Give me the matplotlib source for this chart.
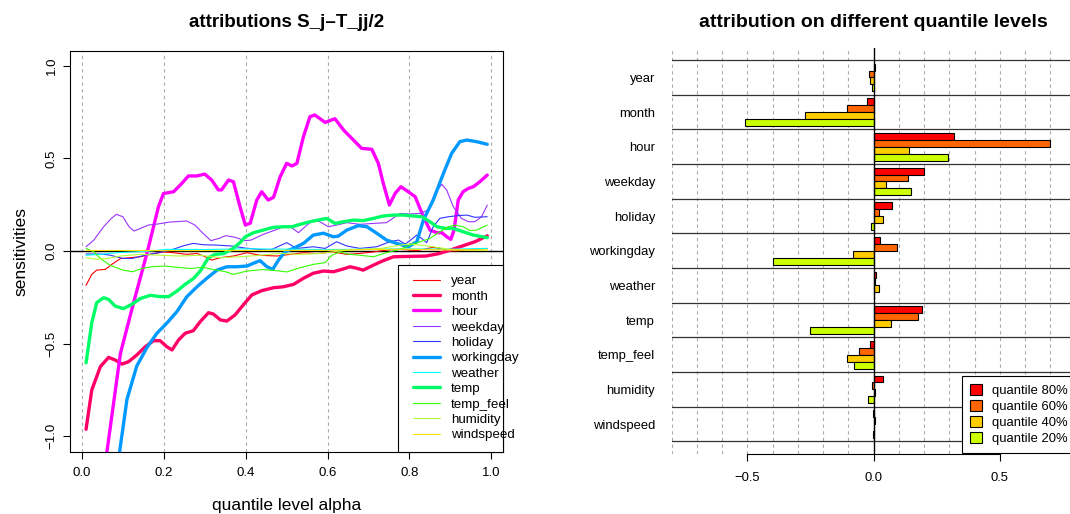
import matplotlib
matplotlib.use('Agg')
import matplotlib.pyplot as plt
from matplotlib.patches import Patch, Rectangle
import numpy as np

plt.rcParams['font.family'] = ['Liberation Sans', 'DejaVu Sans']

# left panel: sensitivities over quantile level alpha
year_a = [0.01, 0.024, 0.036, 0.057, 0.073, 0.094, 0.118, 0.142, 0.167, 0.199, 0.224, 0.256, 0.281, 0.297, 0.317,
          0.338, 0.37, 0.403, 0.435, 0.476, 0.509, 0.541, 0.573, 0.614, 0.647, 0.679, 0.712, 0.744, 0.777, 0.818,
          0.858, 0.883, 0.907, 0.94, 0.99]
year = [-0.185, -0.126, -0.103, -0.099, -0.072, -0.041, -0.036, -0.031, -0.018, -0.005, -0.009, -0.018, -0.013,
        -0.027, -0.049, -0.036, -0.027, -0.009, -0.023, -0.027, -0.018, -0.009, -0.014, -0.005, -0.018, -0.013,
        -0.005, 0.005, 0.009, 0.002, 0.02, 0.009, 0.0, 0.005, 0.014]

month_a = [0.01, 0.024, 0.045, 0.065, 0.081, 0.098, 0.114, 0.134, 0.155, 0.175, 0.191, 0.207, 0.22, 0.236, 0.252,
           0.272, 0.289, 0.309, 0.321, 0.338, 0.354, 0.374, 0.394, 0.415, 0.439, 0.468, 0.492, 0.517, 0.541, 0.565,
           0.59, 0.614, 0.635, 0.655, 0.671, 0.687, 0.712, 0.736, 0.761, 0.80, 0.84, 0.87, 0.90, 0.933, 0.96, 0.99]
month = [-0.962, -0.75, -0.624, -0.574, -0.588, -0.61, -0.597, -0.561, -0.516, -0.484, -0.484, -0.516, -0.534,
         -0.48, -0.444, -0.43, -0.381, -0.333, -0.34, -0.372, -0.378, -0.345, -0.291, -0.237, -0.214, -0.198,
         -0.193, -0.18, -0.147, -0.12, -0.108, -0.112, -0.099, -0.085, -0.093, -0.103, -0.076, -0.052, -0.031,
         -0.029, -0.027, -0.015, 0.005, 0.03, 0.05, 0.082]

hour_a = [0.01, 0.061, 0.094, 0.126, 0.159, 0.187, 0.199, 0.224, 0.244, 0.26, 0.28, 0.30, 0.317, 0.333, 0.341,
          0.358, 0.37, 0.386, 0.399, 0.411, 0.427, 0.439, 0.455, 0.468, 0.484, 0.50, 0.513, 0.525, 0.541, 0.557,
          0.569, 0.594, 0.618, 0.639, 0.655, 0.683, 0.708, 0.724, 0.736, 0.751, 0.765, 0.779, 0.797, 0.814, 0.834,
          0.85, 0.867, 0.879, 0.891, 0.901, 0.909, 0.919, 0.931, 0.944, 0.956, 0.972, 0.99]
hour = [-1.9, -1.083, -0.552, -0.28, -0.01, 0.24, 0.31, 0.32, 0.365, 0.405, 0.405, 0.415, 0.383, 0.33, 0.33,
        0.383, 0.374, 0.24, 0.14, 0.15, 0.275, 0.32, 0.275, 0.29, 0.40, 0.473, 0.459, 0.473, 0.617, 0.725,
        0.734, 0.694, 0.714, 0.653, 0.617, 0.554, 0.549, 0.473, 0.365, 0.248, 0.311, 0.347, 0.32, 0.293, 0.185,
        0.113, 0.099, 0.099, 0.077, 0.063, 0.113, 0.275, 0.32, 0.338, 0.347, 0.374, 0.41]

weekday_a = [0.01, 0.029, 0.053, 0.072, 0.084, 0.1, 0.115, 0.127, 0.143, 0.162, 0.186, 0.213, 0.256, 0.276, 0.296,
             0.315, 0.335, 0.351, 0.374, 0.398, 0.413, 0.443, 0.468, 0.493, 0.509, 0.529, 0.545, 0.565, 0.581,
             0.602, 0.622, 0.647, 0.679, 0.712, 0.744, 0.765, 0.777, 0.801, 0.826, 0.846, 0.862, 0.879, 0.891,
             0.907, 0.927, 0.944, 0.96, 0.976, 0.99]
weekday = [0.023, 0.059, 0.131, 0.176, 0.198, 0.185, 0.131, 0.108, 0.122, 0.14, 0.146, 0.156, 0.162, 0.14, 0.095,
           0.056, 0.068, 0.083, 0.074, 0.056, 0.059, 0.09, 0.11, 0.131, 0.131, 0.099, 0.131, 0.167, 0.158, 0.131,
           0.14, 0.153, 0.144, 0.149, 0.153, 0.185, 0.203, 0.2, 0.203, 0.221, 0.311, 0.36, 0.329, 0.239, 0.176,
           0.158, 0.158, 0.185, 0.248]

holiday_a = [0.01, 0.045, 0.068, 0.1, 0.123, 0.155, 0.186, 0.217, 0.249, 0.272, 0.296, 0.327, 0.366, 0.398, 0.429,
             0.46, 0.5, 0.525, 0.565, 0.594, 0.622, 0.647, 0.679, 0.72, 0.752, 0.773, 0.79, 0.805, 0.818, 0.83,
             0.842, 0.858, 0.874, 0.895, 0.919, 0.94, 0.96, 0.99]
holiday = [-0.016, -0.016, -0.022, -0.04, -0.04, -0.022, -0.009, 0.005, 0.029, 0.041, 0.034, 0.032, 0.027, 0.016,
           0.009, 0.005, 0.045, 0.014, 0.023, 0.014, 0.05, 0.027, 0.014, 0.023, 0.05, 0.059, 0.038, 0.063, 0.086,
           0.068, 0.045, 0.131, 0.176, 0.185, 0.191, 0.194, 0.182, 0.185]

workingday_a = [0.01, 0.092, 0.11, 0.134, 0.159, 0.183, 0.207, 0.232, 0.256, 0.281, 0.305, 0.33, 0.354, 0.378,
                0.403, 0.419, 0.435, 0.452, 0.466, 0.48, 0.496, 0.517, 0.541, 0.565, 0.59, 0.614, 0.626, 0.647,
                0.675, 0.696, 0.72, 0.744, 0.769, 0.797, 0.818, 0.834, 0.858, 0.883, 0.903, 0.923, 0.94, 0.964, 0.99]
workingday = [-2.3, -1.083, -0.80, -0.62, -0.52, -0.444, -0.39, -0.327, -0.247, -0.193, -0.147, -0.103, -0.085,
              -0.085, -0.081, -0.066, -0.052, -0.085, -0.099, -0.049, -0.004, 0.015, 0.041, 0.086, 0.096, 0.077,
              0.08, 0.113, 0.137, 0.131, 0.096, 0.059, 0.041, 0.023, 0.05, 0.167, 0.275, 0.419, 0.527, 0.59,
              0.599, 0.59, 0.576]

weather_a = [0.01, 0.045, 0.085, 0.126, 0.167, 0.207, 0.3, 0.4, 0.5, 0.6, 0.7, 0.8, 0.9, 0.99]
weather = [-0.023, -0.018, -0.009, -0.005, 0.0, 0.009, 0.008, 0.012, 0.01, 0.008, 0.01, 0.012, 0.01, 0.014]

temp_a = [0.01, 0.024, 0.036, 0.053, 0.065, 0.081, 0.101, 0.122, 0.142, 0.167, 0.191, 0.212, 0.232, 0.252, 0.272,
          0.289, 0.309, 0.325, 0.346, 0.366, 0.386, 0.399, 0.419, 0.443, 0.468, 0.492, 0.513, 0.533, 0.557, 0.577,
          0.598, 0.618, 0.639, 0.663, 0.687, 0.712, 0.736, 0.761, 0.785, 0.809, 0.83, 0.85, 0.867, 0.887, 0.907,
          0.931, 0.956, 0.99]
temp = [-0.603, -0.387, -0.279, -0.252, -0.261, -0.297, -0.311, -0.288, -0.257, -0.239, -0.246, -0.246, -0.216,
        -0.18, -0.149, -0.108, -0.036, -0.018, -0.014, 0.009, 0.045, 0.077, 0.099, 0.113, 0.128, 0.131, 0.131,
        0.144, 0.158, 0.167, 0.176, 0.149, 0.158, 0.167, 0.164, 0.176, 0.189, 0.194, 0.194, 0.189, 0.185, 0.158,
        0.131, 0.122, 0.122, 0.104, 0.086, 0.072]

temp_feel_a = [0.01, 0.029, 0.045, 0.068, 0.1, 0.123, 0.147, 0.17, 0.202, 0.233, 0.264, 0.296, 0.321, 0.351, 0.37,
               0.403, 0.443, 0.484, 0.5, 0.533, 0.565, 0.594, 0.61, 0.63, 0.655, 0.679, 0.712, 0.744, 0.777, 0.801,
               0.826, 0.85, 0.874, 0.895, 0.911, 0.931, 0.948, 0.964, 0.99]
temp_feel = [0.014, -0.004, -0.04, -0.076, -0.103, -0.112, -0.094, -0.085, -0.081, -0.088, -0.094, -0.088, -0.1,
             -0.112, -0.126, -0.108, -0.1, -0.108, -0.113, -0.09, -0.072, -0.063, -0.023, -0.005, -0.018, -0.023,
             -0.031, -0.009, 0.009, 0.032, 0.05, 0.068, 0.104, 0.131, 0.14, 0.131, 0.11, 0.113, 0.14]

humidity_a = [0.01, 0.036, 0.06, 0.094, 0.142, 0.191, 0.24, 0.289, 0.338, 0.386, 0.435, 0.484, 0.533, 0.581, 0.63,
              0.679, 0.728, 0.777, 0.801, 0.826, 0.858, 0.899, 0.94, 0.99]
humidity = [-0.036, -0.045, -0.041, -0.027, -0.018, -0.023, -0.027, -0.023, -0.036, -0.031, -0.023, -0.013,
            -0.018, -0.013, 0.0, 0.009, 0.013, 0.032, 0.038, 0.032, 0.023, 0.009, 0.005, 0.005]

windspeed_a = [0.01, 0.2, 0.4, 0.6, 0.7, 0.8, 0.9, 0.99]
windspeed = [0.003, 0.002, 0.003, 0.004, 0.008, 0.01, 0.005, 0.006]

# right panel: attribution per variable at four quantile levels
variables = ['year', 'month', 'hour', 'weekday', 'holiday', 'workingday', 'weather', 'temp', 'temp_feel',
             'humidity', 'windspeed']
q80 = [0.004, -0.026, 0.317, 0.198, 0.071, 0.025, 0.009, 0.19, -0.016, 0.036, -0.003]
q60 = [-0.02, -0.106, 0.699, 0.135, 0.021, 0.091, 0.007, 0.174, -0.057, -0.008, 0.007]
q40 = [-0.013, -0.27, 0.142, 0.051, 0.038, -0.08, 0.02, 0.07, -0.106, 0.004, 0.001]
q20 = [-0.007, -0.51, 0.296, 0.149, -0.011, -0.398, 0.003, -0.254, -0.078, -0.024, -0.003]
quant_labels = ['quantile 80%', 'quantile 60%', 'quantile 40%', 'quantile 20%']

series = [(year_a, year), (month_a, month), (hour_a, hour), (weekday_a, weekday), (holiday_a, holiday),
          (workingday_a, workingday), (weather_a, weather), (temp_a, temp), (temp_feel_a, temp_feel),
          (humidity_a, humidity), (windspeed_a, windspeed)]
line_cols = ['#FF0000', '#FF0066', '#FF00FF', '#9933FF', '#3333FF', '#0099FF', '#00FFFF', '#00FF66',
             '#33FF00', '#B3FF33', '#FFDD00']
thick = [False, True, True, False, False, True, False, True, False, False, False]
bar_cols = ['#FF0000', '#FF6600', '#FFCC00', '#CCFF00']

W, H = 1070, 514
fig = plt.figure(figsize=(W / 100, H / 100), dpi=100)

# ---- left panel
ax = fig.add_axes([70 / W, (H - 451.7) / H, (503.3 - 70) / W, (451.7 - 50.7) / H])
for g in np.arange(0, 1.01, 0.2):
    ax.axvline(g, color='#aaaaaa', lw=0.8, ls=(0, (3, 3)), zorder=1)
ax.axhline(0, color='black', lw=1, zorder=2)
for (xa, ya), c, tk, name in zip(series, line_cols, thick, variables):
    ax.plot(xa, ya, color=c, lw=2.4 if tk else 0.8, label=name, zorder=3,
            solid_joinstyle='round', solid_capstyle='round')
ax.set_xlim(-0.0292, 1.0292)
ax.set_ylim(-1.083, 1.081)
ax.set_xticks(np.arange(0, 1.01, 0.2))
ax.set_yticks([-1, -0.5, 0, 0.5, 1])
ax.tick_params(labelsize=9.5, length=5, width=0.8, direction='out')
ax.tick_params(axis='x', pad=6)
ax.tick_params(axis='y', pad=4)
for lab in ax.get_yticklabels():
    lab.set_rotation(90)
    lab.set_va('center')
for s in ax.spines.values():
    s.set_linewidth(0.8)
ax.set_xlabel('quantile level alpha', fontsize=12.5, labelpad=14)
ax.set_ylabel('sensitivities', fontsize=12.5, labelpad=12)
ax.set_title('attributions S_j\u2013T_jj/2', fontsize=13.5, fontweight='bold', pad=17)

# legend box is fixed; the longer labels run past its right edge as in the original
ax.add_patch(Rectangle(((397.7 - 70) / 433.3, 0), 1 - (397.7 - 70) / 433.3, (451.7 - 265) / 401,
                       transform=ax.transAxes, facecolor='white', edgecolor='black', lw=0.8,
                       zorder=4, clip_on=False))
leg = ax.legend(loc='upper left', bbox_to_anchor=(413 / W, (H - 275) / H), bbox_transform=fig.transFigure,
                borderaxespad=0, borderpad=0, fontsize=9.6, frameon=False, handlelength=2.0,
                handletextpad=0.85, labelspacing=0.23)
leg.set_zorder(5)

# ---- right panel
ax2 = fig.add_axes([671.7 / W, (H - 453.5) / H, (W - 671.7) / W, (453.5 - 48) / H])
for g in np.arange(-0.8, 0.75, 0.1):
    if abs(g) > 1e-9:
        ax2.axvline(g, color='#aaaaaa', lw=0.8, ls=(0, (3, 3)), zorder=1)
ypos = np.arange(len(variables))
for k, vals in enumerate([q80, q60, q40, q20]):
    ax2.barh(ypos + 0.2 + 0.2 * k, vals, height=0.2, color=bar_cols[k], edgecolor='black', linewidth=0.8,
             zorder=3)
for b in range(len(variables) + 1):
    ax2.axhline(b, color='#333333', lw=0.9, zorder=2)
ax2.axvline(0, color='black', lw=1, zorder=4)
ax2.set_xlim(-0.8, 0.778)
ax2.set_ylim(11.35, -0.35)
ax2.set_yticks(ypos + 0.5)
ax2.set_yticklabels(variables)
ax2.tick_params(axis='y', length=0, labelsize=9.4, pad=12)
ax2.set_xticks([-0.5, 0, 0.5])
ax2.tick_params(axis='x', labelsize=9.4, length=5, width=0.8, pad=8)
for side in ['top', 'right', 'left']:
    ax2.spines[side].set_visible(False)
ax2.spines['bottom'].set_bounds(-0.5, 0.5)
ax2.spines['bottom'].set_linewidth(0.8)
ax2.set_title('attribution on different quantile levels', fontsize=14, fontweight='bold', pad=15, x=0.506)
handles = [Patch(facecolor=c, edgecolor='black', linewidth=0.8) for c in bar_cols]
leg2 = ax2.legend(handles, quant_labels, loc='lower left', bbox_to_anchor=(962.3 / W, (H - 453) / H),
                  bbox_transform=fig.transFigure, borderaxespad=0, fontsize=9.4, fancybox=False,
                  edgecolor='black', framealpha=1, handlelength=0.9, handleheight=0.9, handletextpad=0.8,
                  labelspacing=0.25, borderpad=0.6)
leg2.get_frame().set_linewidth(0.8)

fig.savefig('out.png', dpi=100)
